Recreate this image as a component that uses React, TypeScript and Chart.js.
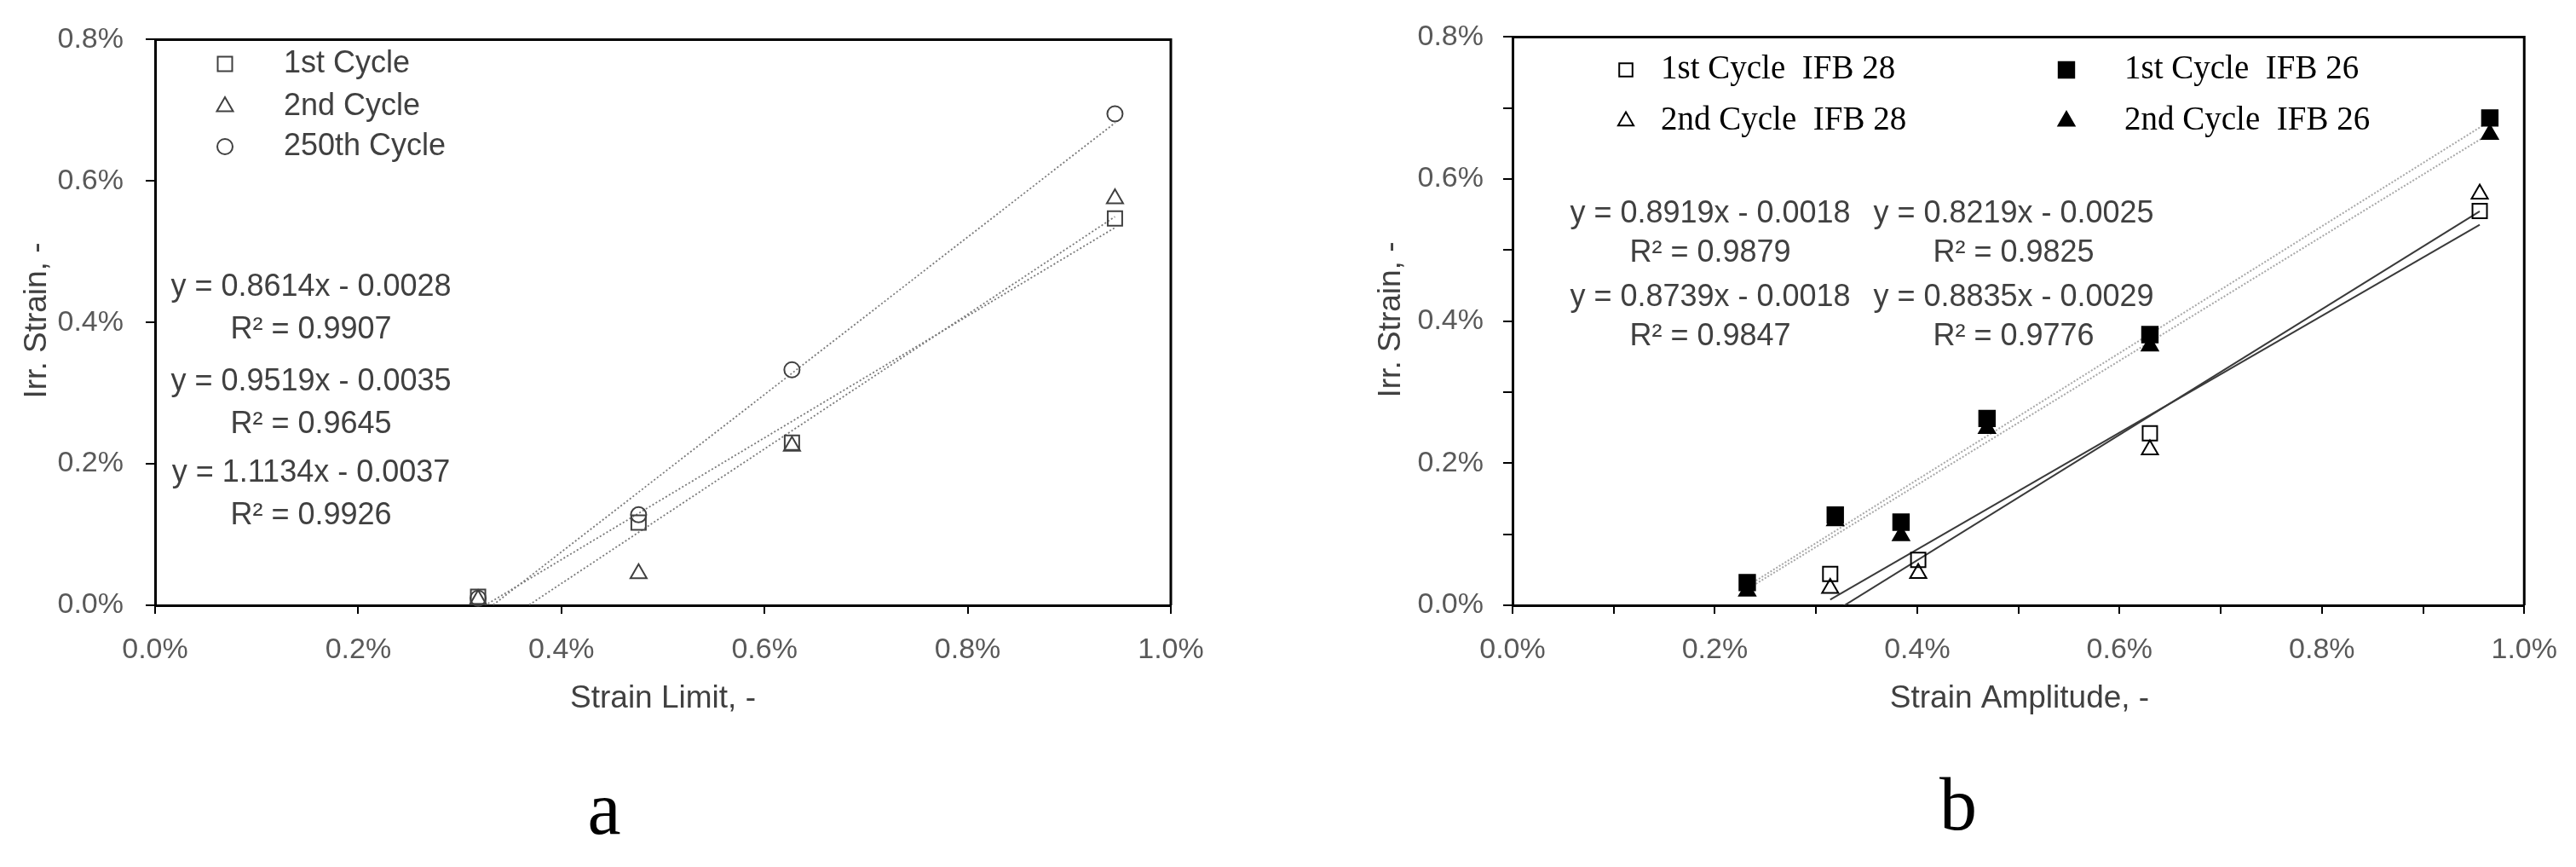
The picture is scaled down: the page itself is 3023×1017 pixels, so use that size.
import React, { useEffect, useRef } from 'react';
import { Chart, registerables } from 'chart.js';

Chart.register(...registerables);

// ---------- DATA (values in %) ----------
// Chart a
const strainLimit = [0.318, 0.476, 0.627, 0.945];
const irrCycle1 = [0.012, 0.117, 0.23, 0.547];
const irrCycle2 = [0.008, 0.045, 0.225, 0.575];
const irrCycle250 = [0.01, 0.128, 0.333, 0.695];
const leftNames = ['1st Cycle', '2nd Cycle', '250th Cycle'];
const leftSlopes = [0.8614, 0.9519, 1.1134];
const leftIntercepts = [-0.0028, -0.0035, -0.0037];
const leftR2 = [0.9907, 0.9645, 0.9926];

// Chart b
const ampIFB28 = [0.314, 0.401, 0.63, 0.956];
const irr1stIFB28 = [0.044, 0.064, 0.242, 0.555];
const irr2ndIFB28 = [0.024, 0.045, 0.219, 0.579];
const ampIFB26 = [0.232, 0.319, 0.384, 0.469, 0.63, 0.966];
const irr1stIFB26 = [0.032, 0.127, 0.117, 0.263, 0.381, 0.686];
const irr2ndIFB26 = [0.02, 0.119, 0.098, 0.249, 0.365, 0.663];
const rightNames = ['1st Cycle  IFB 28', '2nd Cycle  IFB 28', '1st Cycle  IFB 26', '2nd Cycle  IFB 26'];
// order: IFB28 1st, IFB28 2nd, IFB26 1st, IFB26 2nd
const rightSlopes = [0.8219, 0.8835, 0.8919, 0.8739];
const rightIntercepts = [-0.0025, -0.0029, -0.0018, -0.0018];
const rightR2 = [0.9825, 0.9776, 0.9879, 0.9847];

const xTickLabels = ['0.0%', '0.2%', '0.4%', '0.6%', '0.8%', '1.0%'];
const yTickLabels = ['0.0%', '0.2%', '0.4%', '0.6%', '0.8%'];

// ---------- STYLE ----------
const SANS = "'Liberation Sans', Arial, sans-serif";
const SERIF = "'Liberation Serif', 'Times New Roman', serif";
const TICK_COLOR = '#595959';
const TEXT_COLOR = '#404040';
const W = 3023;
const H = 1017;

type Pt = { x: number; y: number };
const pts = (xs: number[], ys: number[]): Pt[] => xs.map((x, i) => ({ x, y: ys[i] }));
const trend = (xs: number[], m: number, b: number): Pt[] => {
  const x0 = Math.min(...xs);
  const x1 = Math.max(...xs);
  return [
    { x: x0, y: m * x0 + b * 100 },
    { x: x1, y: m * x1 + b * 100 },
  ];
};
const eqText = (m: number, b: number) =>
  `y = ${m.toFixed(4)}x ${b < 0 ? '-' : '+'} ${Math.abs(b).toFixed(4)}`;
const r2Text = (r: number) => `R\u00B2 = ${r.toFixed(4)}`;

function drawMarker(
  ctx: CanvasRenderingContext2D,
  style: string,
  x: number,
  y: number,
  r: number,
  fill: string,
  stroke: string,
  lw: number
) {
  ctx.save();
  ctx.beginPath();
  if (style === 'rect') {
    const s = r * Math.SQRT1_2;
    ctx.rect(x - s, y - s, 2 * s, 2 * s);
  } else if (style === 'triangle') {
    let rad = 0;
    ctx.moveTo(x + Math.sin(rad) * r, y - Math.cos(rad) * r);
    rad += (2 * Math.PI) / 3;
    ctx.lineTo(x + Math.sin(rad) * r, y - Math.cos(rad) * r);
    rad += (2 * Math.PI) / 3;
    ctx.lineTo(x + Math.sin(rad) * r, y - Math.cos(rad) * r);
    ctx.closePath();
  } else {
    ctx.arc(x, y, r, 0, Math.PI * 2);
  }
  ctx.fillStyle = fill;
  ctx.fill();
  ctx.lineWidth = lw;
  ctx.strokeStyle = stroke;
  ctx.stroke();
  ctx.restore();
}

type TextItem = { text: string; x: number; y: number; font: string; color: string; align: CanvasTextAlign; rotate?: boolean };
type LegendItem = { style: string; fill: string; stroke: string; r: number; mx: number; tx: number; y: number; text: string; font: string; color: string };

function decorPlugin(texts: TextItem[], legend: LegendItem[]) {
  return {
    id: 'decor',
    afterDraw(chart: any) {
      const ctx: CanvasRenderingContext2D = chart.ctx;
      const a = chart.chartArea;
      ctx.save();
      // top and right frame
      ctx.strokeStyle = '#000';
      ctx.lineWidth = 3;
      ctx.beginPath();
      ctx.moveTo(a.left, a.top);
      ctx.lineTo(a.right, a.top);
      ctx.lineTo(a.right, a.bottom);
      ctx.stroke();
      // texts
      for (const t of texts) {
        ctx.save();
        ctx.font = t.font;
        ctx.fillStyle = t.color;
        ctx.textAlign = t.align;
        ctx.textBaseline = 'middle';
        if (t.rotate) {
          ctx.translate(t.x, t.y);
          ctx.rotate(-Math.PI / 2);
          ctx.fillText(t.text, 0, 0);
        } else {
          ctx.fillText(t.text, t.x, t.y);
        }
        ctx.restore();
      }
      // legend
      for (const l of legend) {
        drawMarker(ctx, l.style, l.mx, l.y, l.r, l.fill, l.stroke, 2);
        ctx.save();
        ctx.font = l.font;
        ctx.fillStyle = l.color;
        ctx.textAlign = 'left';
        ctx.textBaseline = 'middle';
        ctx.fillText(l.text, l.tx, l.y);
        ctx.restore();
      }
      ctx.restore();
    },
  };
}

function axisOptions(
  min: number,
  max: number,
  step: number,
  labels: string[],
  fixed: { width?: number; height?: number },
  padding: number,
  tickLength: number
) {
  return {
    type: 'linear',
    min,
    max,
    afterFit: (s: any) => {
      if (fixed.width !== undefined) s.width = fixed.width;
      if (fixed.height !== undefined) s.height = fixed.height;
    },
    ticks: {
      stepSize: step,
      autoSkip: false,
      maxRotation: 0,
      padding,
      color: TICK_COLOR,
      font: { family: SANS, size: 34 },
      callback: (v: number) => {
        const idx = Math.round(v / 0.2);
        return Math.abs(v - idx * 0.2) < 1e-6 ? labels[idx] ?? '' : '';
      },
    },
    grid: { drawOnChartArea: false, drawTicks: true, tickLength, color: '#000', lineWidth: 2 },
    border: { display: true, color: '#000', width: 3 },
  };
}

function useChart(ref: React.RefObject<HTMLCanvasElement | null>, build: () => any) {
  useEffect(() => {
    if (!ref.current) return;
    const chart = new Chart(ref.current, build());
    return () => chart.destroy();
  }, []);
}

const LEFT_W = 1511;
const RIGHT_W = W - LEFT_W;

export default function App() {
  const leftRef = useRef<HTMLCanvasElement>(null);
  const rightRef = useRef<HTMLCanvasElement>(null);

  useEffect(() => {
    document.body.style.margin = '0';
  }, []);

  useChart(leftRef, () => {
    const styles = ['rect', 'triangle', 'circle'];
    const radii = [12, 11, 9];
    const series = [irrCycle1, irrCycle2, irrCycle250];
    const datasets: any[] = [];
    series.forEach((s, i) => {
      datasets.push({
        label: leftNames[i],
        data: pts(strainLimit, s),
        pointStyle: styles[i],
        pointRadius: radii[i],
        pointBorderWidth: 2,
        pointBackgroundColor: 'rgba(0,0,0,0)',
        pointBorderColor: '#404040',
        showLine: false,
        clip: false,
      });
    });
    series.forEach((_s, i) => {
      datasets.push({
        label: leftNames[i] + ' trend',
        data: trend(strainLimit, leftSlopes[i], leftIntercepts[i]),
        showLine: true,
        pointRadius: 0,
        borderColor: '#7a7a7a',
        borderWidth: 1.8,
        borderDash: [2, 2.5],
        fill: false,
      });
    });
    const texts: TextItem[] = [];
    const eqY = [337, 448, 555];
    leftSlopes.forEach((m, i) => {
      texts.push({ text: eqText(m, leftIntercepts[i]), x: 365, y: eqY[i], font: `36px ${SANS}`, color: TEXT_COLOR, align: 'center' });
      texts.push({ text: r2Text(leftR2[i]), x: 365, y: eqY[i] + 50, font: `36px ${SANS}`, color: TEXT_COLOR, align: 'center' });
    });
    texts.push({ text: 'Irr. Strain, -', x: 44, y: 376, font: `37px ${SANS}`, color: TEXT_COLOR, align: 'center', rotate: true });
    texts.push({ text: 'Strain Limit, -', x: 778, y: 820, font: `37px ${SANS}`, color: TEXT_COLOR, align: 'center' });
    texts.push({ text: 'a', x: 709, y: 955, font: `88px ${SERIF}`, color: '#000', align: 'center' });
    const legendY = [75, 125, 172];
    const legend: LegendItem[] = leftNames.map((n, i) => ({
      style: styles[i],
      fill: 'rgba(0,0,0,0)',
      stroke: '#404040',
      r: radii[i],
      mx: 264,
      tx: 333,
      y: legendY[i],
      text: n,
      font: `36px ${SANS}`,
      color: TEXT_COLOR,
    }));
    return {
      type: 'scatter',
      data: { datasets },
      options: {
        animation: false,
        responsive: false,
        devicePixelRatio: 1,
        layout: { padding: { top: 42, right: LEFT_W - 1374, left: 0, bottom: 0 } },
        plugins: { legend: { display: false }, tooltip: { enabled: false } },
        scales: {
          x: axisOptions(0, 1, 0.2, xTickLabels, { height: H - 710 }, 22, 10),
          y: axisOptions(0, 0.8, 0.2, yTickLabels, { width: 182 }, 26, 11),
        },
      },
      plugins: [decorPlugin(texts, legend)],
    };
  });

  useChart(rightRef, () => {
    const xs = [ampIFB28, ampIFB28, ampIFB26, ampIFB26];
    const ys = [irr1stIFB28, irr2ndIFB28, irr1stIFB26, irr2ndIFB26];
    const styles = ['rect', 'triangle', 'rect', 'triangle'];
    const radii = [12, 11, 13, 11];
    const fills = ['rgba(0,0,0,0)', 'rgba(0,0,0,0)', '#000', '#000'];
    const datasets: any[] = [];
    ys.forEach((s, i) => {
      datasets.push({
        label: rightNames[i],
        data: pts(xs[i], s),
        pointStyle: styles[i],
        pointRadius: radii[i],
        pointBorderWidth: 2,
        pointBackgroundColor: fills[i],
        pointBorderColor: '#000',
        showLine: false,
        clip: false,
      });
    });
    ys.forEach((_s, i) => {
      const is28 = i < 2;
      datasets.push({
        label: rightNames[i] + ' trend',
        data: trend(xs[i], rightSlopes[i], rightIntercepts[i]),
        showLine: true,
        pointRadius: 0,
        borderColor: is28 ? '#3a3a3a' : '#a8a8a8',
        borderWidth: 2,
        borderDash: is28 ? [] : [2, 2],
        fill: false,
      });
    });
    const texts: TextItem[] = [];
    // column 1: IFB 26 fits, column 2: IFB 28 fits
    const cols = [
      { idx: [2, 3], x: 496 },
      { idx: [0, 1], x: 852 },
    ];
    const rowY = [251, 349];
    cols.forEach((c) => {
      c.idx.forEach((k, r) => {
        texts.push({ text: eqText(rightSlopes[k], rightIntercepts[k]), x: c.x, y: rowY[r], font: `36px ${SANS}`, color: TEXT_COLOR, align: 'center' });
        texts.push({ text: r2Text(rightR2[k]), x: c.x, y: rowY[r] + 46, font: `36px ${SANS}`, color: TEXT_COLOR, align: 'center' });
      });
    });
    texts.push({ text: 'Irr. Strain, -', x: 122, y: 375, font: `37px ${SANS}`, color: TEXT_COLOR, align: 'center', rotate: true });
    texts.push({ text: 'Strain Amplitude, -', x: 859, y: 820, font: `37px ${SANS}`, color: TEXT_COLOR, align: 'center' });
    texts.push({ text: 'b', x: 787, y: 950, font: `88px ${SERIF}`, color: '#000', align: 'center' });
    const legendPos = [
      { mx: 397, tx: 438, y: 82 },
      { mx: 397, tx: 438, y: 142 },
      { mx: 914, tx: 982, y: 82 },
      { mx: 914, tx: 982, y: 142 },
    ];
    const legendR = [11, 10.5, 13, 11];
    const legend: LegendItem[] = rightNames.map((n, i) => ({
      style: styles[i],
      fill: fills[i],
      stroke: '#000',
      r: legendR[i],
      mx: legendPos[i].mx,
      tx: legendPos[i].tx,
      y: legendPos[i].y,
      text: n,
      font: `39px ${SERIF}`,
      color: '#000',
    }));
    return {
      type: 'scatter',
      data: { datasets },
      options: {
        animation: false,
        responsive: false,
        devicePixelRatio: 1,
        layout: { padding: { top: 42, right: RIGHT_W - (2964 - LEFT_W), left: 0, bottom: 0 } },
        plugins: { legend: { display: false }, tooltip: { enabled: false } },
        scales: {
          x: axisOptions(0, 1, 0.1, xTickLabels, { height: H - 710 }, 22, 10),
          y: axisOptions(0, 0.8, 0.1, yTickLabels, { width: 1775 - LEFT_W }, 23, 11),
        },
      },
      plugins: [decorPlugin(texts, legend)],
    };
  });

  return (
    <div style={{ position: 'relative', width: W, height: H, background: '#fff', overflow: 'hidden' }}>
      <canvas ref={leftRef} width={LEFT_W} height={H} style={{ position: 'absolute', left: 0, top: 0 }} />
      <canvas ref={rightRef} width={RIGHT_W} height={H} style={{ position: 'absolute', left: LEFT_W, top: 0 }} />
    </div>
  );
}
